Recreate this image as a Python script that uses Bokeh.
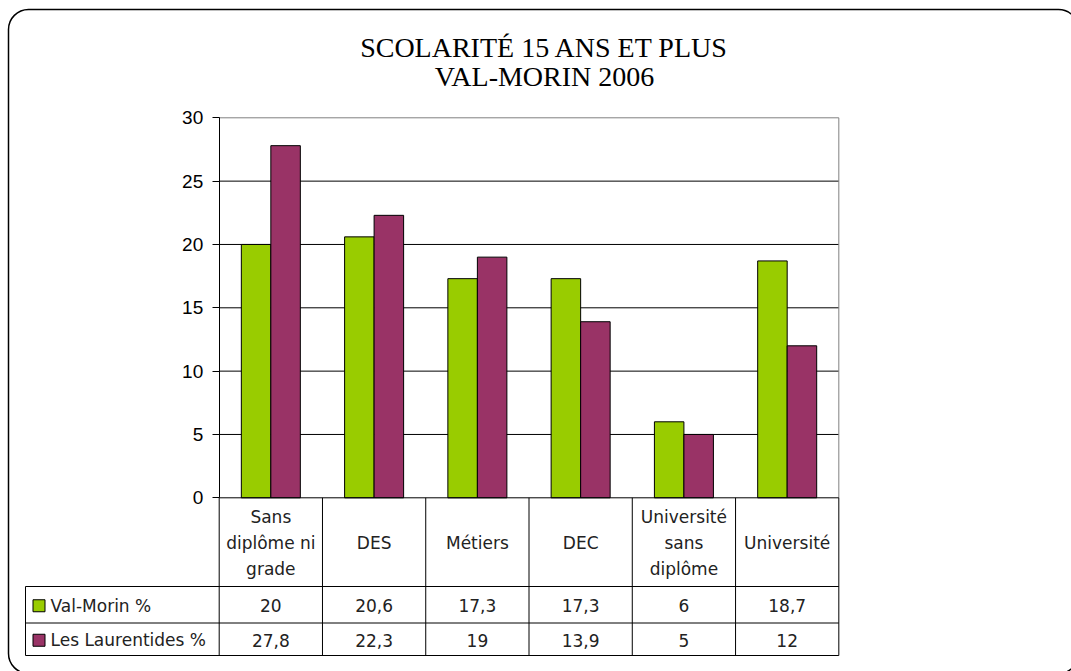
import numpy as np
from bokeh.plotting import figure
from bokeh.models import Range1d, FixedTicker, LinearAxis, BoxAnnotation
from bokeh.embed import file_html
from bokeh.resources import INLINE
from bokeh.core.properties import value

# ---------------- data ----------------
categories = ["Sans\ndiplôme ni\ngrade", "DES", "Métiers", "DEC",
              "Université\nsans\ndiplôme", "Université"]
val_morin = [20, 20.6, 17.3, 17.3, 6, 18.7]
laurentides = [27.8, 22.3, 19, 13.9, 5, 12]
series_names = ["Val-Morin %", "Les Laurentides %"]
series_colors = ["#99CC00", "#993366"]
y_ticks = [0, 5, 10, 15, 20, 25, 30]
title_lines = ["SCOLARITÉ 15 ANS ET PLUS", "VAL-MORIN 2006"]

# ---------------- layout constants (pixels) ----------------
W, H = 1071, 671
X0 = 218.7           # left edge of first category
CAT = 103.27         # width of one category
Y0 = 497.3           # pixel of value 0
VPX = 380 / 30       # pixels per unit value
LEG_L = 25           # left edge of legend column
HDR_B, R1_B, R2_B = 586, 622.5, 655
TABLE_FONT = "DejaVu Sans"
TITLE_FONT = "Liberation Serif"
TXT_COL = "#222222"

n = len(categories)
centers = np.arange(n) + 0.5
bar_w = 1 / 3.5            # gap width 150 %


def px2x(px):
    return (px - X0) / CAT


def px2y(py):
    return (Y0 - py) / VPX


def fmt(v):
    return (str(int(v)) if float(v).is_integer() else str(v)).replace(".", ",")


p = figure(width=W, height=H, x_range=Range1d(px2x(0), px2x(W)),
           y_range=Range1d(px2y(H), px2y(0)), min_border=0,
           x_axis_location=None, y_axis_location=None,
           output_backend="svg", toolbar_location=None, tools="")
p.outline_line_color = None
p.background_fill_color = "white"
p.border_fill_color = "white"
p.grid.visible = False

# rounded page border
p.add_layout(BoxAnnotation(left=px2x(8), right=px2x(1078), top=px2y(9), bottom=px2y(673),
                           border_radius=20, fill_color=None, fill_alpha=0,
                           line_color="black", line_alpha=1.0, line_width=1.5))

# title
p.text(x=[px2x(544)] * 2, y=[px2y(46.5), px2y(76)], text=title_lines,
       text_align="center", text_baseline="middle", text_font=value(TITLE_FONT),
       text_font_size="28px", text_color="black")

# horizontal gridlines (limited to plot area)
grid_y = y_ticks[1:-1]
p.segment(x0=[0] * len(grid_y), y0=grid_y, x1=[n] * len(grid_y), y1=grid_y,
          line_color="black", line_width=1)
# plot area outline (top & right, gray)
p.segment(x0=[0, n], y0=[y_ticks[-1], 0], x1=[n, n], y1=[y_ticks[-1], y_ticks[-1]],
          line_color="#808080", line_width=1)

# bars
p.vbar(x=centers - bar_w / 2, bottom=0, top=val_morin, width=bar_w,
       fill_color=series_colors[0], line_color="black", line_width=1)
p.vbar(x=centers + bar_w / 2, bottom=0, top=laurentides, width=bar_w,
       fill_color=series_colors[1], line_color="black", line_width=1)

# value axis
yax = LinearAxis(fixed_location=0, bounds=(y_ticks[0], y_ticks[-1]),
                 ticker=FixedTicker(ticks=y_ticks))
yax.major_tick_in = 0
yax.major_tick_out = 7
yax.minor_tick_line_color = None
yax.major_label_standoff = 9
yax.major_label_text_font = "Liberation Sans"
yax.major_label_text_font_size = "19px"
yax.major_label_text_color = "black"
yax.axis_line_color = "black"
yax.major_tick_line_color = "black"
p.add_layout(yax, "left")

# ---------------- data table ----------------
# category axis line
p.segment(x0=[0], y0=[0], x1=[n], y1=[0], line_color="black", line_width=1)
# vertical lines of category columns
p.segment(x0=list(range(n + 1)), y0=[0] * (n + 1), x1=list(range(n + 1)),
          y1=[px2y(R2_B)] * (n + 1), line_color="black", line_width=1)
# legend column left line
p.segment(x0=[px2x(LEG_L)], y0=[px2y(HDR_B)], x1=[px2x(LEG_L)], y1=[px2y(R2_B)],
          line_color="black", line_width=1)
# horizontal table lines
rows_b = [px2y(HDR_B), px2y(R1_B), px2y(R2_B)]
p.segment(x0=[px2x(LEG_L)] * 3, y0=rows_b, x1=[n] * 3, y1=rows_b,
          line_color="black", line_width=1)

# category labels
p.text(x=centers, y=[px2y((Y0 + HDR_B) / 2 + 1)] * n, text=categories,
       text_align="center", text_baseline="middle", text_font=value(TABLE_FONT),
       text_font_size="17px", text_line_height=1.3, text_color=TXT_COL)

row_mid = [px2y((HDR_B + R1_B) / 2 + 1), px2y((R1_B + R2_B) / 2 + 1)]
for vals, ym in zip([val_morin, laurentides], row_mid):
    p.text(x=centers, y=[ym] * n, text=[fmt(v) for v in vals], text_align="center",
           text_baseline="middle", text_font=value(TABLE_FONT), text_font_size="17px",
           text_color=TXT_COL)

# legend keys
p.rect(x=[px2x(38.5)] * 2, y=row_mid, width=12, height=12, width_units="screen",
       height_units="screen", fill_color=series_colors, line_color="black", line_width=1)
p.text(x=[px2x(50)] * 2, y=row_mid, text=series_names, text_align="left",
       text_baseline="middle", text_font=value(TABLE_FONT), text_font_size="17px",
       text_color=TXT_COL)

open("out.html", "w").write(file_html(p, INLINE))
